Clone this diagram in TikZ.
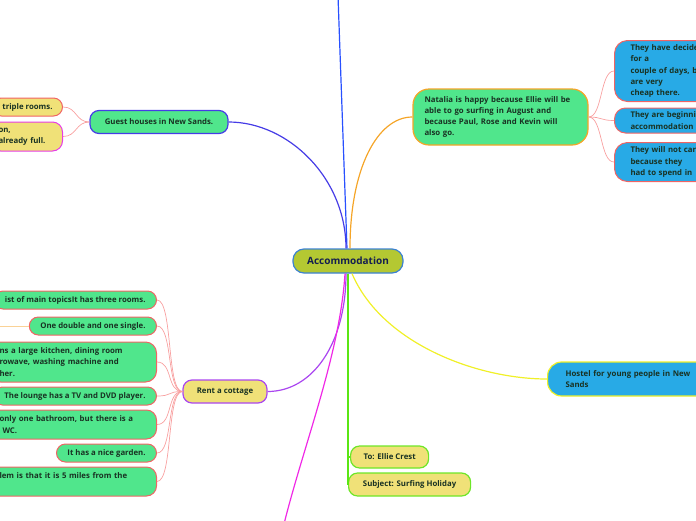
\documentclass[tikz,border=0pt]{standalone}
\usepackage{fontspec}
\setmainfont{Open Sans}
\usetikzlibrary{positioning}
\definecolor{mmgreen}{RGB}{80,230,140}
\definecolor{mmyellow}{RGB}{240,225,120}
\definecolor{mmblue}{RGB}{40,170,230}
\definecolor{mmolive}{RGB}{180,200,50}
\definecolor{mmink}{RGB}{25,50,35}
\definecolor{mmnavy}{RGB}{20,30,80}
\definecolor{accedge}{RGB}{60,130,210}
\definecolor{guestedge}{RGB}{70,60,230}
\definecolor{orangeedge}{RGB}{245,165,40}
\definecolor{leafedge}{RGB}{240,100,100}
\definecolor{magentaedge}{RGB}{230,60,230}
\definecolor{purpleedge}{RGB}{170,70,240}
\definecolor{yellowedge}{RGB}{240,240,40}
\definecolor{greenedge}{RGB}{110,230,40}
\definecolor{topblue}{RGB}{40,80,255}
\definecolor{linemagenta}{RGB}{240,40,230}
\definecolor{linegreen}{RGB}{90,230,20}
\definecolor{leafline}{RGB}{248,160,160}
\definecolor{paleorange}{RGB}{250,210,150}

\begin{document}
\begin{tikzpicture}[x=1pt, y=-1pt,
    topic/.style={draw, line width=1.2pt, rounded corners=9pt, inner sep=0pt, text=mmink, font=\bfseries\fontsize{7.8}{11.2}\selectfont},
    leaf/.style={topic, line width=1pt, fill=mmgreen, draw=leafedge, minimum height=18pt, inner xsep=11pt},
    cutleaf/.style={leaf, anchor=east, text width=147pt, inner xsep=10pt, align=left},
    bluenote/.style={topic, line width=1pt, fill=mmblue, draw=leafedge, anchor=west, text width=100pt, inner xsep=16pt, align=left, rounded corners=13pt},
    conn/.style={line width=1.2pt},
    twig/.style={line width=0.7pt, draw=leafline}
  ]
  \useasboundingbox (0,0) rectangle (696,520);

  % central topic
  \node[topic, fill=mmolive, draw=accedge, text=mmnavy, minimum width=110pt, minimum height=24pt, rounded corners=11pt, font=\bfseries\fontsize{10}{11}\selectfont] (acc) at (348,261) {Accommodation};

  % guest houses
  \node[topic, fill=mmgreen, draw=guestedge, minimum width=138pt, minimum height=23pt] (guest) at (159,122) {Guest houses in New Sands.};
  \node[topic, line width=1pt, fill=mmyellow, draw=leafedge, anchor=east, minimum height=18pt, inner xsep=10pt] (gh1) at (63,107) {triple rooms.};
  \node[topic, line width=1pt, fill=mmyellow, draw=magentaedge, anchor=east, minimum height=29pt, text width=56pt, inner xsep=8pt, align=left, rounded corners=10pt] (gh2) at (63,136.5) {on,\\already full.};

  % Natalia
  \node[topic, fill=mmgreen, draw=orangeedge, minimum width=175pt, minimum height=56pt, text width=152pt, inner xsep=11.5pt, align=left, rounded corners=16pt] (nat) at (500.5,117) {Natalia is happy because Ellie will be\\able to go surfing in August and\\because Paul, Rose and Kevin will\\also go.};
  \node[bluenote, minimum height=61pt] (bl1) at (614,71) {They have decide\\for a\\couple of days, b\\are very\\cheap there.};
  \node[bluenote, minimum height=25pt, rounded corners=11pt] (bl2) at (614,120.5) {They are beginni\\accommodation};
  \node[bluenote, minimum height=39pt] (bl3) at (614,162) {They will not car\\because they\\had to spend in};

  % hostel
  \node[topic, fill=mmblue, draw=yellowedge, anchor=west, minimum height=34pt, text width=140pt, inner xsep=18pt, align=left, rounded corners=14pt] (hostel) at (547,379) {Hostel for young people in New\\Sands};

  % cottage
  \node[topic, fill=mmyellow, draw=purpleedge, minimum width=84pt, minimum height=23pt] (cottage) at (225,391.5) {Rent a cottage};
  \node[leaf, anchor=east] (c1) at (157,300) {ist of main topicsIt has three rooms.};
  \node[leaf, anchor=east] (c2) at (157,326) {One double and one single.};
  \node[cutleaf, minimum height=40pt, rounded corners=11pt] (c3) at (157,362) {ns a large kitchen, dining room\\rowave, washing machine and\\her.};
  \node[leaf, anchor=east] (c4) at (157,396) {The lounge has a TV and DVD player.};
  \node[cutleaf, minimum height=29pt, rounded corners=10pt] (c5) at (157,424.5) {only one bathroom, but there is a\\\hspace*{3pt}WC.};
  \node[leaf, anchor=east] (c6) at (157,453) {It has a nice garden.};
  \node[cutleaf, minimum height=29pt, rounded corners=10pt] (c7) at (157,481.5) {lem is that it is 5 miles from the\\\mbox{}};

  % letter header
  \node[topic, fill=mmyellow, draw=greenedge, anchor=west, minimum width=78pt, minimum height=22pt] (to) at (350,457) {To: Ellie Crest};
  \node[topic, fill=mmyellow, draw=greenedge, anchor=west, minimum width=122pt, minimum height=23pt] (subj) at (348,484.5) {Subject: Surfing Holiday};

  % loose ends
  \coordinate (topend) at (338,-4);
  \coordinate (botend) at (284,524);
  \coordinate (offleft) at (-4,326);

  % main branches
  \draw[conn, topblue] ([xshift=-1pt]acc.north) -- (topend);
  \draw[conn, guestedge] ([xshift=-2pt]acc.north) .. controls +(0,-70) and +(60,0) .. (guest.east);
  \draw[conn, orangeedge] ([xshift=2pt]acc.north) .. controls +(0,-80) and +(-35,0) .. (nat.west);
  \draw[conn, purpleedge] ([xshift=-2pt]acc.south) .. controls +(0,70) and +(45,0) .. (cottage.east);
  \draw[conn, linemagenta] ([xshift=-3pt]acc.south) .. controls +(-5,80) and +(20,-80) .. (botend);
  \draw[conn, yellowedge] ([xshift=4pt]acc.south) .. controls +(30,70) and +(-70,0) .. (hostel.west);
  \draw[conn, linegreen] (acc.south) |- (to.west);
  \draw[conn, linegreen] (acc.south) |- (subj.west);

  % twigs
  \foreach \n in {gh1,gh2}
    \draw[twig] (guest.west) .. controls +(-14,0) and +(14,0) .. (\n.east);
  \foreach \n in {bl1,bl2,bl3}
    \draw[twig] (nat.east) .. controls +(14,0) and +(-14,0) .. (\n.west);
  \foreach \n in {c1,c2,c3,c4,c5,c6,c7}
    \draw[twig] (cottage.west) .. controls +(-16,0) and +(16,0) .. (\n.east);
  \draw[twig, paleorange] (offleft) -- (c2.west);
\end{tikzpicture}
\end{document}
